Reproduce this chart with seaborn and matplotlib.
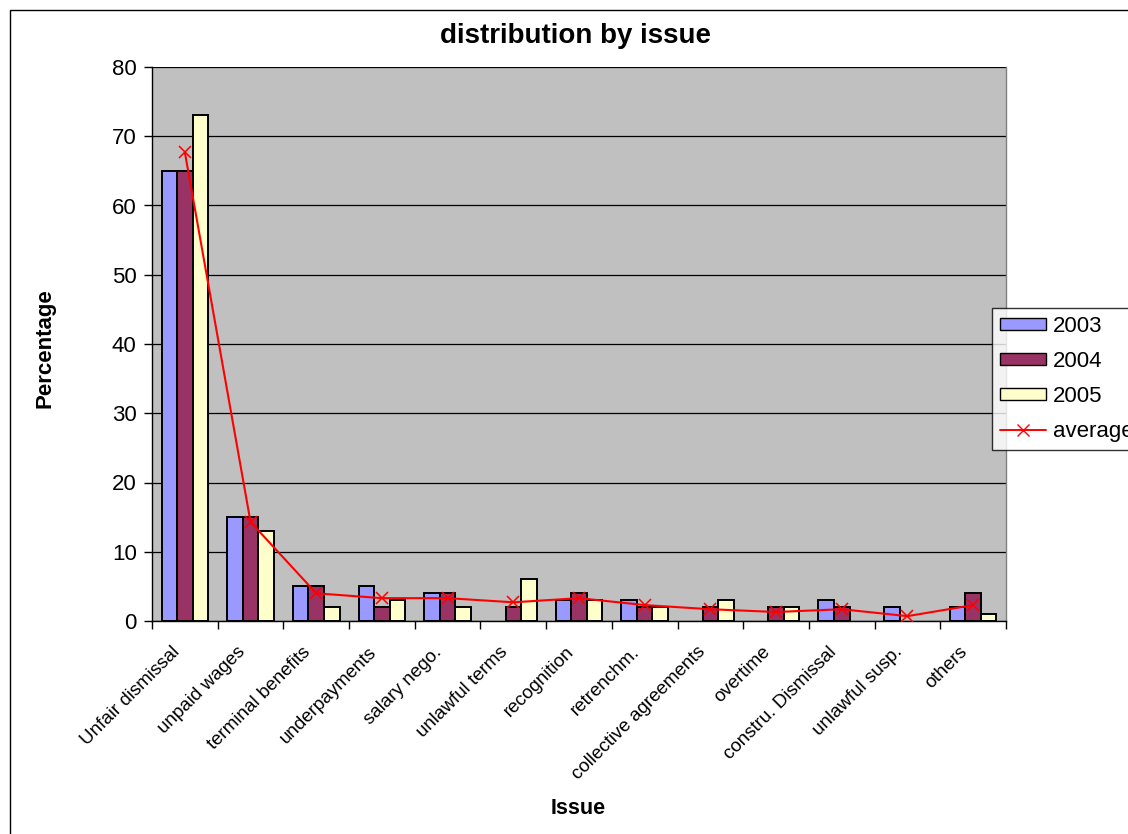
import matplotlib
matplotlib.use("Agg")
import matplotlib.pyplot as plt
import matplotlib.transforms as mtransforms
from matplotlib.patches import Patch, Rectangle
from matplotlib.lines import Line2D
import seaborn as sns
import pandas as pd
import numpy as np

categories = ["Unfair dismissal", "unpaid wages", "terminal benefits", "underpayments",
              "salary nego.", "unlawful terms", "recognition", "retrenchm.",
              "collective agreements", "overtime", "constru. Dismissal",
              "unlawful susp.", "others"]
y2003 = [65, 15, 5, 5, 4, 0, 3, 3, 0, 0, 3, 2, 2]
y2004 = [65, 15, 5, 2, 4, 2, 4, 2, 2, 2, 2, 0, 4]
y2005 = [73, 13, 2, 3, 2, 6, 3, 2, 3, 2, 0, 0, 1]
average = [67.7, 14.3, 4.0, 3.3, 3.3, 2.7, 3.3, 2.3, 1.7, 1.3, 1.7, 0.7, 2.3]
years = ["2003", "2004", "2005"]
colors = ["#9999FF", "#993366", "#FFFFCC"]

df = pd.DataFrame({
    "Issue": categories * 3,
    "Percentage": y2003 + y2004 + y2005,
    "Year": [years[0]] * 13 + [years[1]] * 13 + [years[2]] * 13,
})

sns.set_theme(style="white", rc={"text.color": "black", "axes.labelcolor": "black",
                                 "xtick.color": "black", "ytick.color": "black"})
plt.rcParams["font.family"] = ["Liberation Sans", "DejaVu Sans"]

fig = plt.figure(figsize=(11.28, 8.34), dpi=100)
ax = fig.add_axes([152/1128, 1-621/834, (1006-152)/1128, (621-67)/834])
ax.set_facecolor("#C0C0C0")

sns.barplot(data=df, x="Issue", y="Percentage", hue="Year", order=categories,
            hue_order=years, palette=colors, width=0.71, edgecolor="black",
            linewidth=1.4, saturation=1, legend=False, ax=ax, zorder=3)
for p in ax.patches:
    if p.get_height() == 0:
        p.set_visible(False)
sns.pointplot(x=categories, y=average, color="red", markers="x", linestyles="-",
              markersize=9, linewidth=1.5, ax=ax, zorder=4)

ax.set_ylim(0, 80)
ax.set_xlim(-0.5, 12.5)
ax.set_yticks(np.arange(0, 81, 10))
ax.yaxis.grid(True, color="black", linewidth=0.9, zorder=0)
ax.set_axisbelow(True)
ax.tick_params(axis="y", labelsize=16, length=6, width=1, pad=5, direction="out",
               left=True, colors="black")
ax.set_xticks(range(len(categories)))
ax.set_xticklabels(categories, rotation=45, ha="right", rotation_mode="anchor", fontsize=13.5)
ax.tick_params(axis="x", length=0, pad=6)
offset = mtransforms.ScaledTranslation(-0.14, -0.14, fig.dpi_scale_trans)
for lbl in ax.get_xticklabels():
    lbl.set_transform(lbl.get_transform() + offset)
ax.set_xticks(np.arange(-0.5, 13, 1), minor=True)
ax.tick_params(axis="x", which="minor", length=6, width=1, direction="out", bottom=True,
               color="black")

for s in ["left", "bottom"]:
    ax.spines[s].set_color("black")
    ax.spines[s].set_linewidth(1)
ax.spines["top"].set_visible(False)
ax.spines["right"].set_color("#808080")
ax.spines["right"].set_linewidth(1)

ax.set_xlabel("")
ax.set_ylabel("")
fig.text(576/1128, 1-36/834, "distribution by issue", ha="center", va="center",
         fontsize=20, fontweight="bold")
fig.text(45/1128, 1-348/834, "Percentage", ha="center", va="center",
         fontsize=16, fontweight="bold", rotation=90)
fig.text(578/1128, 1-808/834, "Issue", ha="center", va="center",
         fontsize=15.5, fontweight="bold")

handles = [Patch(facecolor=c, edgecolor="black", linewidth=1) for c in colors]
handles.append(Line2D([0], [0], color="red", marker="x", markersize=9, linewidth=1.4))
leg = fig.legend(handles, years + ["average"], loc="upper left",
                 bbox_to_anchor=(992/1128, 1-308/834), frameon=True, fancybox=False,
                 edgecolor="black", fontsize=16, handlelength=2.1, handleheight=0.5,
                 labelspacing=0.63, borderpad=0.35, handletextpad=0.3, borderaxespad=0)
leg.get_frame().set_linewidth(1)
leg.get_frame().set_facecolor("white")

fig.patches.append(Rectangle((10/1128, -0.1), 1.5, 1.1 - 10/834, transform=fig.transFigure,
                             fill=False, edgecolor="black", linewidth=1))

fig.savefig("out.png", dpi=100)
